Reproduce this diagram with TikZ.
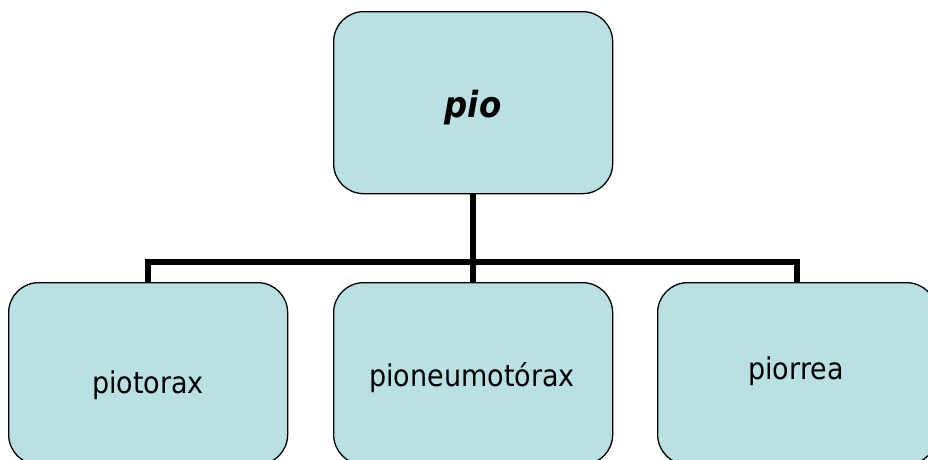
\documentclass[tikz,border=0pt]{standalone}
\usepackage{fontspec}
\setmainfont{DejaVu Sans Condensed}
\definecolor{boxfill}{RGB}{185,224,227}
\tikzset{
  box/.style={draw=black, line width=1.3pt, fill=boxfill, rounded corners=30pt,
    minimum width=279pt, minimum height=182pt, inner sep=0pt, anchor=north west},
  lbl/.style={font=\fontsize{30}{34}\selectfont, inner sep=0pt},
  conn/.style={line width=6pt}
}
\begin{document}
\begin{tikzpicture}[x=1pt,y=-1pt]
\useasboundingbox (0,0) rectangle (928,459);
\clip (0,0) rectangle (928,459);
\fill[white] (0,0) rectangle (928,459);
\node[box] (top) at (333,11) {};
\node[box] (b1) at (8,282) {};
\node[box] (b2) at (333,282) {};
\node[box] (b3) at (657,282) {};
\coordinate (bus) at (top.south |- 0,262);
\draw[conn] (top.south) -- (bus);
\draw[conn] (b1.north) |- (bus) -| (b3.north);
\draw[conn] (bus) -- (b2.north);
\node[lbl, font=\fontsize{36}{40}\selectfont\bfseries\itshape] (tpio) at (473,108) {pio};
\node[lbl] (t1) at (148,385) {piotorax};
\node[lbl] (t2) at (472,378) {pioneumotórax};
\node[lbl] (t3) at (796,371) {piorrea};
\end{tikzpicture}
\end{document}
